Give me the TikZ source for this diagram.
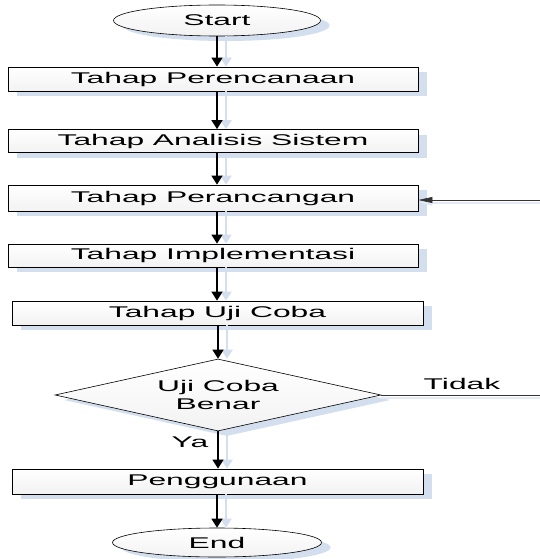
\documentclass[tikz,border=0pt]{standalone}
\usepackage{fontspec}
\setmainfont{Liberation Sans}
\newfontfamily\widefont[FakeStretch=2.05]{Liberation Sans}
\usetikzlibrary{shapes.geometric,arrows.meta,shadows}
\definecolor{shadowblue}{HTML}{D3DEEF}
\definecolor{paleblue}{HTML}{E3EAF5}
\tikzset{
  basefont/.style={font=\widefont\fontsize{15.5}{18.5}\selectfont},
  shade/.style={top color=white, bottom color=gray!10,
    drop shadow={shadow xshift=9pt, shadow yshift=-5pt, fill=shadowblue, opacity=1}},
  stepbox/.style={shape=rectangle, draw=black, line width=0.8pt, inner sep=0pt, shade, basefont},
  term/.style={shape=ellipse, draw=black, line width=0.6pt, inner sep=0pt, shade, basefont},
  decide/.style={shape=diamond, draw=black, line width=0.6pt, inner sep=0pt, shade, basefont, align=center, shape aspect=4.5},
  arr/.style={line width=1.4pt, -{Triangle[width=11pt,length=9pt]},
    preaction={draw=shadowblue, line width=2.5pt, -{Triangle[width=11pt,length=9pt]}, transform canvas={xshift=9pt}}},
  thin/.style={line width=0.6pt, draw=black!80,
    preaction={draw=paleblue, line width=2pt, transform canvas={yshift=-2.5pt}}},
  lbl/.style={basefont, inner sep=0pt}
}
\begin{document}
\begin{tikzpicture}[x=1pt, y=-1pt]
\useasboundingbox[fill=white] (0,0) rectangle (540,559);
\node[term, minimum width=207pt, minimum height=31pt] (start) at (217,20.5) {Start};
\node[stepbox, minimum width=410pt, minimum height=24pt] (b1) at (213,79) {Tahap Perencanaan};
\node[stepbox, minimum width=410pt, minimum height=23pt] (b2) at (213,141) {Tahap Analisis Sistem};
\node[stepbox, minimum width=410pt, minimum height=26pt] (b3) at (213,198) {Tahap Perancangan};
\node[stepbox, minimum width=410pt, minimum height=23pt] (b4) at (213,255.5) {Tahap Implementasi};
\node[stepbox, minimum width=411pt, minimum height=24pt] (b5) at (217.5,313) {Tahap Uji Coba};
\node[decide, minimum width=326pt, minimum height=72pt] (dec) at (218,395) {Uji Coba\\Benar};
\node[stepbox, minimum width=411pt, minimum height=25pt] (b6) at (217.5,481.5) {Penggunaan};
\node[term, minimum width=209pt, minimum height=29pt] (end) at (217,542.5) {End};
\coordinate (r1) at (540,395);
\coordinate (r2) at (540,200);
\node[lbl] (tidak) at (462,384) {Tidak};
\node[lbl] (ya) at (190,442) {Ya};

\draw[arr] (start.south) -- (start.south |- b1.north);
\draw[arr] (b1.south -| start.south) -- (start.south |- b2.north);
\draw[arr] (b2.south -| start.south) -- (start.south |- b3.north);
\draw[arr] (b3.south -| start.south) -- (start.south |- b4.north);
\draw[arr] (b4.south -| start.south) -- (start.south |- b5.north);
\draw[arr] (b5.south -| dec.north) -- (dec.north);
\draw[arr] (dec.south) -- (dec.south |- b6.north);
\draw[arr] (b6.south -| end.north) -- (end.north);
\draw[thin] (dec.east) -- (r1);
\draw[thin, -{Triangle[width=6pt,length=14pt]}] (r2) -- (r2 -| b3.east);
\end{tikzpicture}
\end{document}
